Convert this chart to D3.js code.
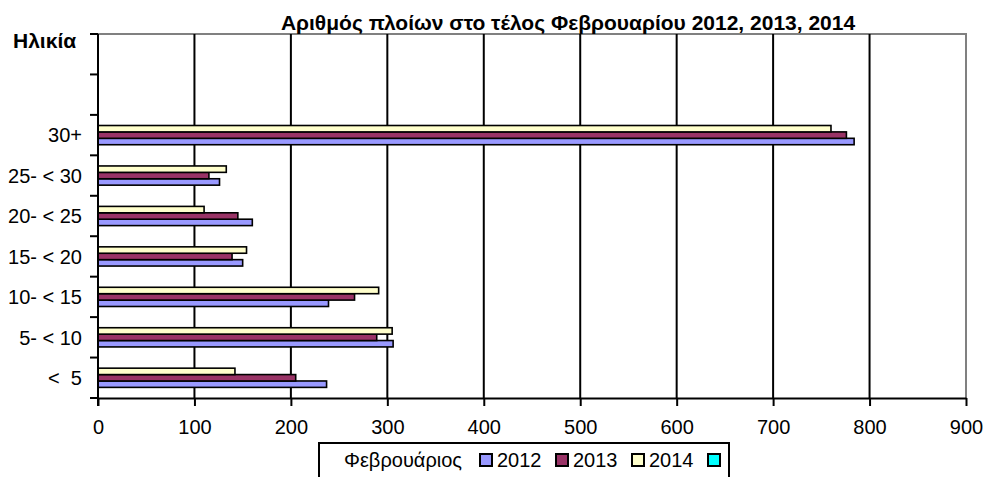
<html>
<head>
<meta charset="utf-8">
<title> Ships by age </title>
<script type="text/javascript" src="https://cdn.jsdelivr.net/npm/d3@7"></script>
    <style>
      * {
        margin: 0;
        padding: 0;
      }
      body {
        background: #fff;
      }
      #chart {
        position: relative;
        width: 985px;
        height: 477px;
        overflow: hidden;
      }
      text {
        font-family: "Liberation Sans", Arial, sans-serif;
        fill: #000;
        white-space: pre;
      }
    </style>
  </head>

  <body>
    <div id="chart"></div>
    <script type="text/javascript">
      // age groups, bottom to top (last two rows are empty in the original)
      var categories = ['<  5', '5- < 10', '10- < 15', '15- < 20', '20- < 25', '25- < 30', '30+', ' ', '  '];
      var series = ['2012', '2013', '2014'];
      var values2012 = [237, 306, 239, 150, 160, 126, 784];
      var values2013 = [205, 289, 266, 139, 145, 115, 776];
      var values2014 = [142, 305, 291, 154, 110, 133, 760];
      var xTicks = [0, 100, 200, 300, 400, 500, 600, 700, 800, 900];
      var legendLabels = ['2012', '2013', '2014', ''];
      var colors = ['#9999ff', '#993366', '#ffffcc', '#00ffff'];

      (function() {
        var W = 985, H = 477;
        var pLeft = 98, pRight = 966, pTop = 34, pBottom = 398;

        var svg = d3.select('#chart').append('svg')
            .attr('width', W)
            .attr('height', H);

        var x = d3.scaleLinear().domain([0, 900]).range([pLeft, pRight]);
        var y = d3.scaleBand().domain(categories.slice().reverse())
            .range([pTop, pBottom]).paddingInner(0.525).paddingOuter(0.2625);
        var inner = d3.scaleBand().domain(['2014', '2013', '2012'])
            .range([0, y.bandwidth()]);

        // plot area border (grey top/right)
        svg.append('path')
            .attr('d', 'M' + pLeft + ',' + pTop + 'L' + pRight + ',' + pTop + 'L' + pRight + ',' + pBottom)
            .attr('fill', 'none')
            .attr('stroke', '#808080')
            .attr('stroke-width', 2);

        // vertical grid lines
        svg.selectAll('.grid')
            .data(xTicks.slice(1, -1))
          .enter().append('line')
            .attr('x1', function(d) { return x(d); })
            .attr('x2', function(d) { return x(d); })
            .attr('y1', pTop)
            .attr('y2', pBottom)
            .attr('stroke', '#000')
            .attr('stroke-width', 2);

        // bars
        var data = [];
        var all = [values2012, values2013, values2014];
        categories.forEach(function(c, i) {
          series.forEach(function(s, j) {
            if (all[j][i] !== undefined) {
              data.push({cat: c, s: s, v: all[j][i], color: colors[j]});
            }
          });
        });
        svg.selectAll('.bar')
            .data(data)
          .enter().append('rect')
            .attr('x', x(0))
            .attr('y', function(d) { return y(d.cat) + inner(d.s); })
            .attr('width', function(d) { return x(d.v) - x(0); })
            .attr('height', inner.bandwidth())
            .attr('fill', function(d) { return d.color; })
            .attr('stroke', '#000')
            .attr('stroke-width', 1.6);

        // x axis
        var xAxis = svg.append('g')
            .attr('transform', 'translate(0,' + pBottom + ')')
            .call(d3.axisBottom(x).tickValues(xTicks).tickSize(8).tickPadding(14).tickSizeOuter(0));
        xAxis.select('.domain').attr('stroke', '#000').attr('stroke-width', 2);
        xAxis.selectAll('.tick line').attr('stroke', '#000').attr('stroke-width', 2);
        xAxis.selectAll('.tick text')
            .attr('font-family', '"Liberation Sans", Arial, sans-serif')
            .attr('font-size', 20)
            .attr('fill', '#000');

        // y axis: ticks on category boundaries
        var step = y.step();
        var boundaries = d3.range(categories.length + 1).map(function(i) { return pTop + i * step; });
        svg.append('line')
            .attr('x1', pLeft).attr('x2', pLeft)
            .attr('y1', pTop).attr('y2', pBottom + 8)
            .attr('stroke', '#000').attr('stroke-width', 2);
        svg.selectAll('.ytick')
            .data(boundaries)
          .enter().append('line')
            .attr('x1', pLeft - 8).attr('x2', pLeft)
            .attr('y1', function(d) { return d; })
            .attr('y2', function(d) { return d; })
            .attr('stroke', '#000').attr('stroke-width', 2);
        svg.selectAll('.ylab')
            .data(categories)
          .enter().append('text')
            .attr('x', 82)
            .attr('y', function(d) { return y(d) + y.bandwidth() / 2; })
            .attr('dy', '0.36em')
            .attr('text-anchor', 'end')
            .attr('font-size', 20)
            .text(function(d) { return d.trim() ? d : ''; });

        // titles
        svg.append('text')
            .attr('x', 568).attr('y', 30)
            .attr('text-anchor', 'middle')
            .attr('font-size', 21)
            .attr('font-weight', 'bold')
            .text('Αριθμός πλοίων στο τέλος Φεβρουαρίου 2012, 2013, 2014');
        svg.append('text')
            .attr('x', 13).attr('y', 48)
            .attr('font-size', 21)
            .attr('font-weight', 'bold')
            .text('Ηλικία');

        // legend
        svg.append('rect')
            .attr('x', 319).attr('y', 443)
            .attr('width', 410).attr('height', 60)
            .attr('fill', '#fff')
            .attr('stroke', '#000')
            .attr('stroke-width', 2);
        svg.append('text')
            .attr('x', 344).attr('y', 467)
            .attr('font-size', 20)
            .text('Φεβρουάριος');
        var lx = [480, 556, 632, 708];
        legendLabels.forEach(function(l, i) {
          svg.append('rect')
              .attr('x', lx[i]).attr('y', 454)
              .attr('width', 12).attr('height', 12)
              .attr('fill', colors[i])
              .attr('stroke', '#000')
              .attr('stroke-width', 2);
          svg.append('text')
              .attr('x', lx[i] + 17).attr('y', 467)
              .attr('font-size', 20)
              .text(l);
        });
      })();
    </script>
  </body>
</html>
